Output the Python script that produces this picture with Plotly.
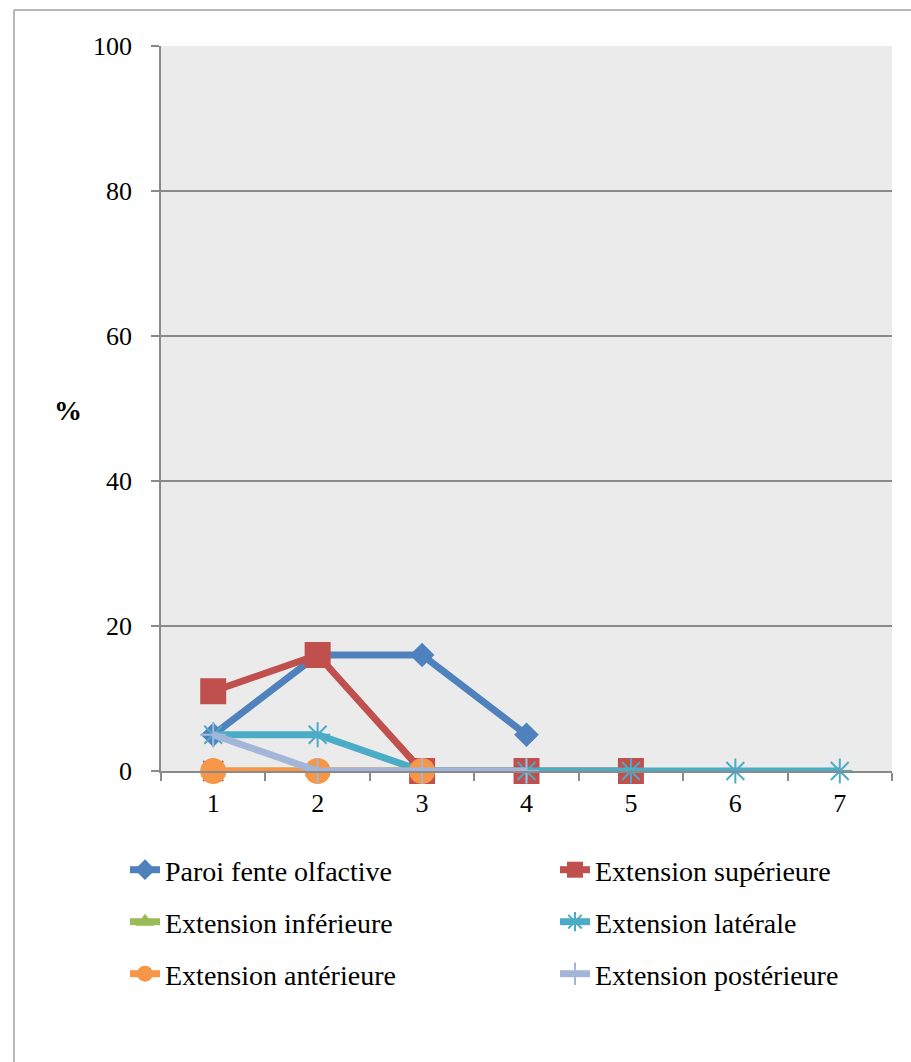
import plotly.graph_objects as go

categories = ["1", "2", "3", "4", "5", "6", "7"]
paroi = [5, 16, 16, 5]
superieure = [11, 16, 0, 0, 0]
inferieure = [0, 0, 0]
serie4 = [0]
laterale = [5, 5, 0, 0, 0, 0, 0]
anterieure = [0, 0, 0]
posterieure = [5, 0, 0, 0]
y_ticks = [0, 20, 40, 60, 80, 100]

FONT = "Liberation Serif"
GRID = "#8A8A8A"

# name, values, colour, symbol, marker size, legend id, in legend
series = [
    ("Paroi fente olfactive", paroi, "#4F81BD", "diamond", 19, "legend", True),
    ("Extension supérieure", superieure, "#C0504D", "square", 26, "legend2", True),
    ("Extension inférieure", inferieure, "#9BBB59", "triangle-up", 22, "legend3", True),
    ("Série 4", serie4, "#8064A2", "x-thin-open", 20, "legend3", False),
    ("Extension latérale", laterale, "#4BACC6", "asterisk-open", 21, "legend4", True),
    ("Extension antérieure", anterieure, "#F79646", "circle", 26, "legend5", True),
    ("Extension postérieure", posterieure, "#A3B5D9", "cross-thin-open", 18, "legend6", True),
]

fig = go.Figure()
for name, vals, color, sym, size, leg, show in series:
    open_sym = sym.endswith("open")
    fig.add_trace(go.Scatter(
        x=categories[:len(vals)], y=vals, name=name, mode="lines+markers",
        line=dict(color=color, width=7),
        marker=dict(symbol=sym, size=size, color=color,
                    line=dict(color=color, width=2 if open_sym else 0)),
        legend=leg, showlegend=show, cliponaxis=False,
    ))

fig.update_layout(
    width=911, height=1062,
    margin=dict(l=161, r=19, t=46, b=291),
    paper_bgcolor="white", plot_bgcolor="#EBEBEB",
    font=dict(family=FONT, size=26, color="black"),
    xaxis=dict(type="category", categoryorder="array", categoryarray=categories,
               range=[-0.5, 6.5], showgrid=False, showline=True, linecolor=GRID,
               linewidth=1.5, ticks="outside", tickson="boundaries", ticklen=8,
               tickcolor=GRID, tickwidth=1.5, ticklabelstandoff=8,
               tickfont=dict(family=FONT, size=26)),
    yaxis=dict(range=[0, 100], tickvals=y_ticks, showgrid=True, gridcolor=GRID,
               gridwidth=1.5, showline=True, linecolor=GRID, linewidth=1.5,
               ticks="outside", ticklen=8, tickcolor=GRID, tickwidth=1.5,
               zeroline=False, ticklabelstandoff=14,
               tickfont=dict(family=FONT, size=26)),
    showlegend=True,
)

def px_x(p):
    return (p - 161) / 731

def px_y(p):
    return (771 - p) / 725

rows = [870, 922, 974]
cols = [125, 555]
leg_ids = ["legend", "legend2", "legend3", "legend4", "legend5", "legend6"]
legs = {}
for i, lid in enumerate(leg_ids):
    r, c = divmod(i, 2)
    legs[lid] = dict(orientation="v", x=px_x(cols[c]), xanchor="left",
                     y=px_y(rows[r]), yanchor="middle",
                     font=dict(family=FONT, size=28), bgcolor="rgba(0,0,0,0)",
                     itemwidth=30, borderwidth=0)
fig.update_layout(**legs)

fig.add_annotation(text="<b>%</b>", xref="paper", yref="paper",
                   x=px_x(68), y=px_y(410), xanchor="center", yanchor="middle",
                   showarrow=False,
                   font=dict(family=FONT, size=28, color="black"))

# outer frame
fig.add_shape(type="line", xref="paper", yref="paper",
              x0=px_x(14), x1=px_x(911), y0=px_y(10), y1=px_y(10),
              line=dict(color="#A0A0A0", width=1.5))
fig.add_shape(type="line", xref="paper", yref="paper",
              x0=px_x(14), x1=px_x(14), y0=px_y(10), y1=px_y(1062),
              line=dict(color="#A0A0A0", width=1.5))

fig.write_html("out.html", config={"displayModeBar": False},
               post_script="document.body.style.margin='0';")
